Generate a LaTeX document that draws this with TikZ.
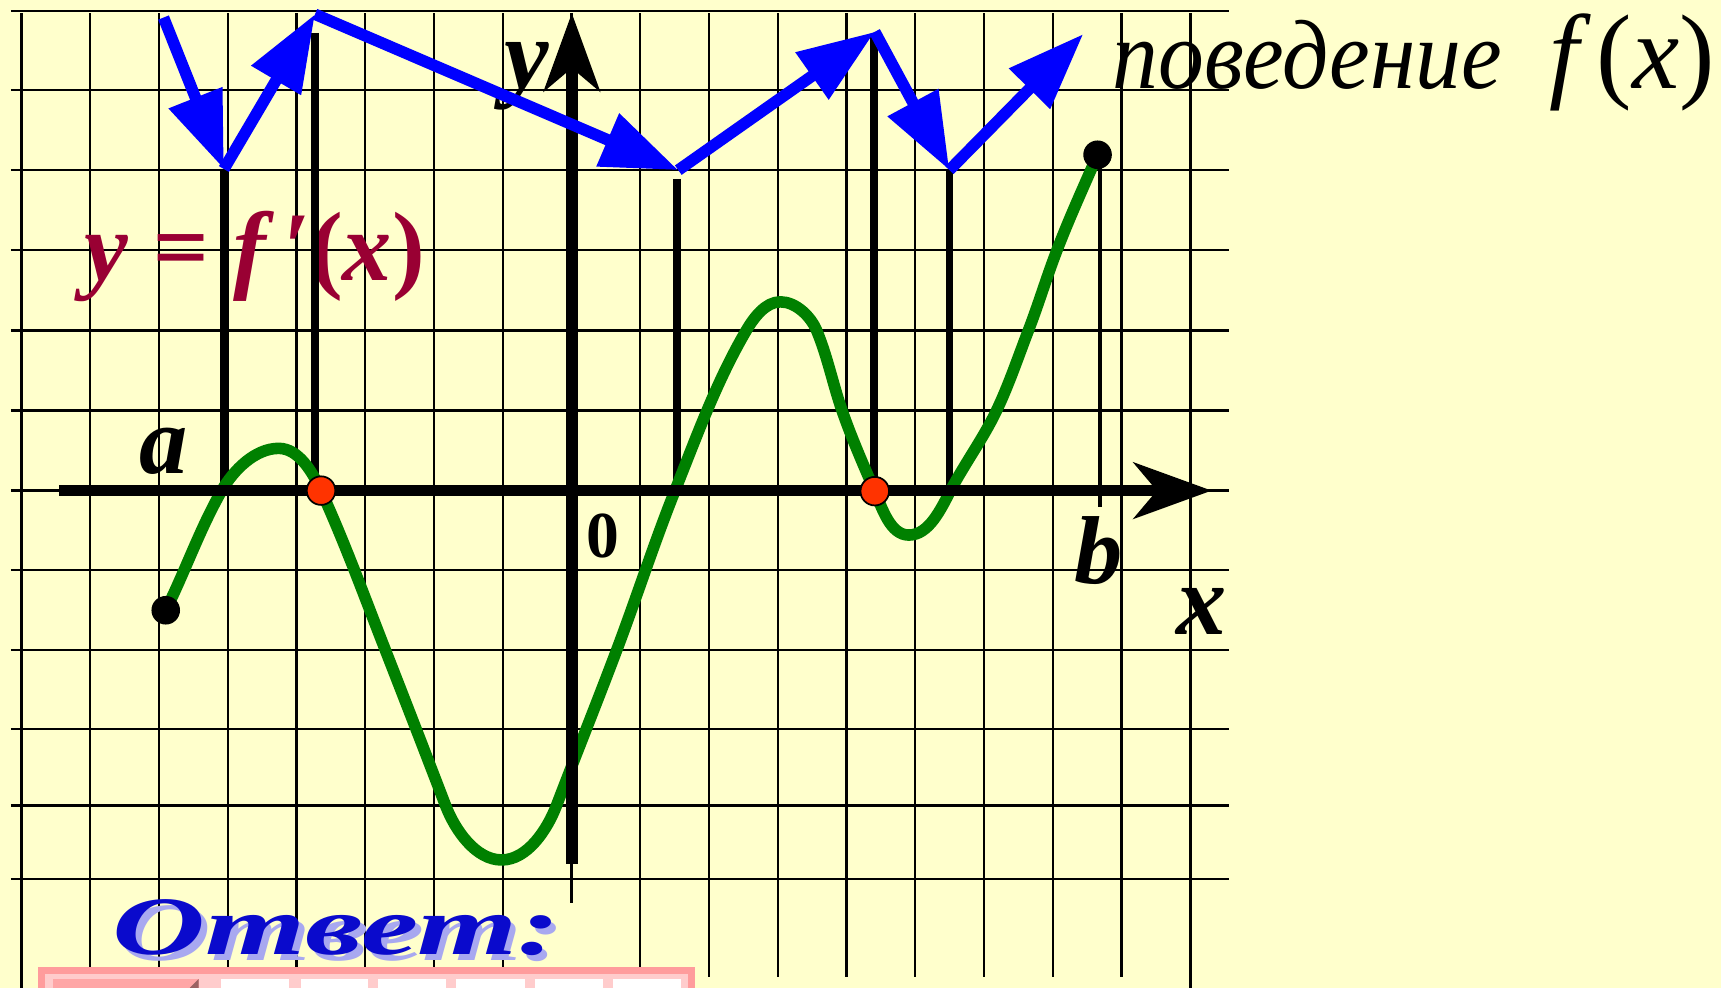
\documentclass[tikz,border=0pt]{standalone}
\usepackage{fontspec}
\setmainfont{Liberation Serif}
\usetikzlibrary{arrows.meta}
\definecolor{paper}{HTML}{FFFFCC}
\definecolor{curvegreen}{HTML}{008000}
\definecolor{arrowblue}{HTML}{0000FF}
\definecolor{dred}{HTML}{990033}
\definecolor{dotred}{HTML}{FF3300}
\definecolor{ansblue}{HTML}{0A0ACC}
\definecolor{ansshadow}{HTML}{A8A8F0}
\definecolor{pinkborder}{HTML}{FF9C9C}
\definecolor{pinkfill}{HTML}{FFCCCC}
\definecolor{pinkbtn}{HTML}{FFA6A6}
\definecolor{btnshade}{HTML}{9A6262}
\begin{document}
\begin{tikzpicture}[x=0.01cm,y=-0.01cm,
  gridline/.style={black, line width=0.6pt},
  axisline/.style={black, line width=3pt, -{Stealth[length=20.2pt,width=14.5pt,inset=6pt]}},
  dropline/.style={black, line width=2pt},
  bline/.style={black, line width=1.05pt},
  fcurve/.style={curvegreen, line width=3pt, line join=round},
  behav/.style={arrowblue, line width=3pt, -{Triangle[length=19.9pt,width=14.2pt]}},
  enddot/.style={circle, fill=black, minimum size=7.4pt, inner sep=0pt},
  zerodot/.style={circle, fill=dotred, draw=black, line width=0.45pt, minimum size=7.4pt, inner sep=0pt},
  lblbig/.style={inner sep=0pt, anchor=base, font=\fontsize{26}{30}\selectfont\bfseries\itshape},
  lblmid/.style={inner sep=0pt, anchor=base, font=\fontsize{25}{30}\selectfont\bfseries\itshape},
]
% background and bounding box
\fill[paper] (0,0) rectangle (1568,900);
\useasboundingbox (0,0) rectangle (1568,900);

% grid
\foreach \gy in {10,82.3,155,228,301,374,447,519.5,592,664,734,801}
  \draw[gridline] (10,\gy) -- (1120,\gy);
\foreach \gx/\gb in {19.5/900,82.15/890,144.8/890,207.45/890,270.1/890,332.75/890,395.4/890,458.05/890,520.7/823,583.35/890,646/890,708.65/890,771.3/890,833.95/890,896.6/890,959.25/890,1021.9/890,1084.55/900}
  \draw[gridline] (\gx,12) -- (\gx,\gb);

% answer box
\fill[pinkborder] (35,881) rectangle (633,900);
\fill[pinkfill] (41,887) rectangle (627,900);
\fill[pinkbtn] (48,892) rectangle (181,900);
\fill[btnshade] (173,900) -- (181,892) -- (181,900) -- cycle;
\foreach \ca/\cb in {201.5/263,274/335,344.5/406,415.5/478,487.5/549,558.5/620.5}
  \fill[white] (\ca,892) rectangle (\cb,900);

% formula label
\node[inner sep=0pt, anchor=base west, text=dred,
      font=\fontsize{25.5}{30}\selectfont\bfseries] (formula) at (76,256)
  {\itshape y = f\,′\upshape(\itshape x\upshape)};

% drop lines
\coordinate (t1) at (204,154);   \coordinate (f1) at (204,447);
\coordinate (t2) at (287,30);    \coordinate (f2) at (287,440);
\coordinate (t3) at (617,163);   \coordinate (f3) at (617,447);
\coordinate (t4) at (796,33);    \coordinate (f4) at (796,447);
\coordinate (t5) at (865,155);   \coordinate (f5) at (865,447);
\coordinate (tb) at (1002,141);  \coordinate (fb) at (1002,462);
\draw[dropline] (t1) -- (f1);
\draw[dropline] (t2) -- (f2);
\draw[dropline] (t3) -- (f3);
\draw[dropline] (t4) -- (f4);
\draw[dropline] (t5) -- (f5);
\draw[bline] (tb) -- (fb);

% graph of f'
\draw[fcurve] (151,556)
  .. controls (168.9,520.1) and (182.1,481.8) .. (202,447)
  .. controls (212.7,428.3) and (232.4,408.5) .. (254,408.5)
  .. controls (272.1,408.5) and (285.0,430.5) .. (292.5,447)
  .. controls (314.1,494.4) and (332.0,543.5) .. (351,592)
  .. controls (369.5,639.3) and (387.8,686.6) .. (406,734)
  .. controls (414.5,756.1) and (433.3,783.5) .. (457,783.5)
  .. controls (480.5,783.5) and (498.6,755.9) .. (507,734)
  .. controls (525.2,686.6) and (544.1,639.5) .. (562,592)
  .. controls (580.2,543.8) and (595.9,494.8) .. (615,447)
  .. controls (634.8,397.5) and (653.0,346.9) .. (680,301)
  .. controls (686.8,289.4) and (697.5,275) .. (711,275)
  .. controls (725,275) and (738.6,288.1) .. (744,301)
  .. controls (753.8,324.4) and (758.7,349.5) .. (767,373.5)
  .. controls (775.7,398.6) and (786.4,423.1) .. (797,447.5)
  .. controls (803.7,463.0) and (811.1,487.5) .. (828,487.5)
  .. controls (846.5,487.5) and (857.4,463.4) .. (866,447)
  .. controls (879.1,422.1) and (895.9,399.4) .. (908,374)
  .. controls (919.3,350.3) and (927.6,325.4) .. (937,301)
  .. controls (946.3,276.9) and (953.7,252.1) .. (963,228)
  .. controls (974.3,198.6) and (987.4,169.9) .. (1000,141);

% axes
\coordinate (xa0) at (54,447);  \coordinate (xa1) at (1104,447);
\coordinate (ya0) at (521,787); \coordinate (ya1) at (521,12);
\draw[axisline] (xa0) -- (xa1);
\draw[axisline] (ya0) -- (ya1);

% points
\node[enddot] (pa) at (151,556) {};
\node[enddot] (pb) at (1000,141) {};
\node[zerodot] (z1) at (292.5,447) {};
\node[zerodot] (z2) at (797,447.5) {};

% labels
\node[lblbig] (ylab) at (480,80.5) {y};
\node[lblbig] (xlab) at (1095,578) {x};
\node[lblmid] (alab) at (149,431) {a};
\node[lblmid] (blab) at (1001,532) {b};
\node[inner sep=0pt, anchor=base, font=\fontsize{17}{20}\selectfont\bfseries] (zero) at (549,508) {0};

% behaviour of f
\coordinate (v0) at (149,16);
\coordinate (v1) at (204,154);
\coordinate (v2) at (287,13);
\coordinate (v3) at (618,155);
\coordinate (v4) at (797,29);
\coordinate (v5) at (865,155);
\coordinate (v6) at (987,31);
\draw[behav] (v0) -- (v1);
\draw[behav] (v1) -- (v2);
\draw[behav] (v2) -- (v3);
\draw[behav] (v3) -- (v4);
\draw[behav] (v4) -- (v5);
\draw[behav] (v5) -- (v6);

\node[inner sep=0pt, anchor=base west, font=\fontsize{25.5}{30}\selectfont\itshape] (beh) at (1013,80.5) {\scalebox{0.93}[1]{поведение}};
\node[inner sep=0pt, anchor=base east, font=\fontsize{27.5}{30}\selectfont] (fx) at (1563,80.5) {\itshape f\,\upshape(\itshape x\upshape)};

% answer caption
\node[inner sep=0pt, anchor=base west, text=ansshadow] (anss) at (107,875)
  {\scalebox{1.55}[1]{\fontsize{21.5}{24}\selectfont\bfseries\itshape Ответ:}};
\node[inner sep=0pt, anchor=base west, text=ansblue] (ans) at (102,870)
  {\scalebox{1.55}[1]{\fontsize{21.5}{24}\selectfont\bfseries\itshape Ответ:}};
\end{tikzpicture}
\end{document}
